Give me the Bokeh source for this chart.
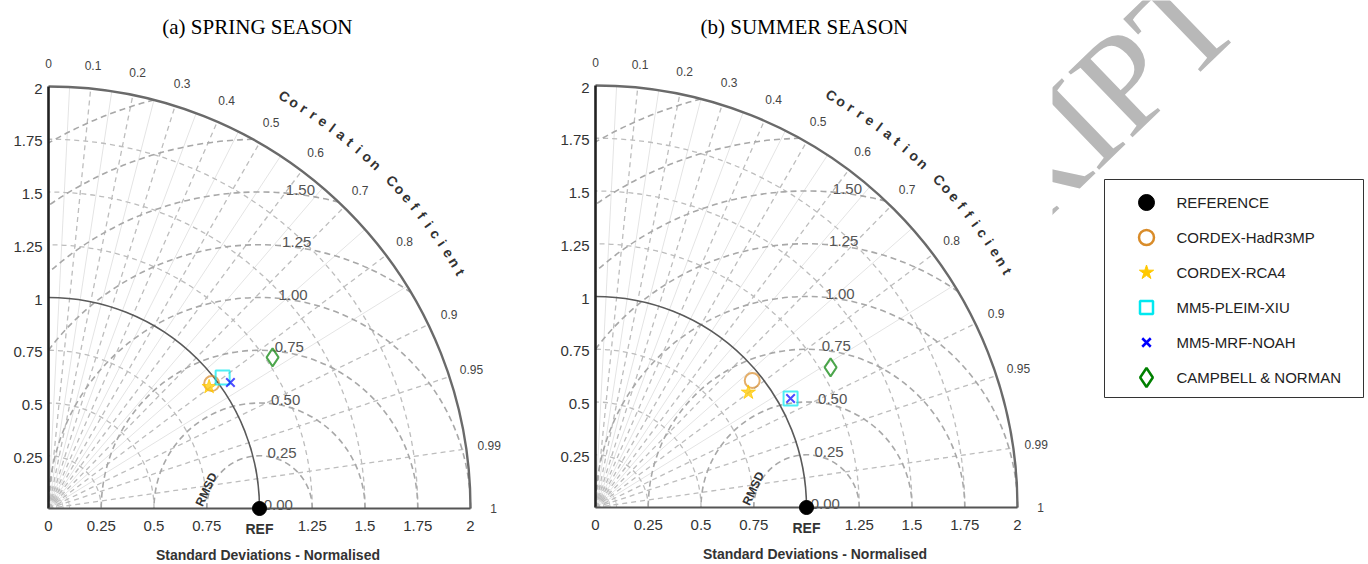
import numpy as np
from bokeh.plotting import figure
from bokeh.layouts import row
from bokeh.models import Range1d
from bokeh.core.properties import value
from bokeh.embed import file_html
from bokeh.resources import INLINE

# ---------------- data ----------------
TITLES = ["(a) SPRING SEASON", "(b) SUMMER SEASON"]
MODELS = ["CORDEX-HadR3MP", "CORDEX-RCA4", "MM5-PLEIM-XIU", "MM5-MRF-NOAH", "CAMPBELL & NORMAN"]
SPRING_STD = [0.974, 0.955, 1.033, 1.049, 1.281]
SPRING_CORR = [0.794, 0.797, 0.799, 0.822, 0.829]
SUMMER_STD = [0.956, 0.907, 1.059, 1.059, 1.297]
SUMMER_CORR = [0.777, 0.799, 0.873, 0.873, 0.859]
REF_NAME = "REFERENCE"
REF_STD = 1.0
REF_CORR = 1.0
MARKERS = ["circle", "star", "square", "x", "diamond"]
COLORS = ["#D98C2A", "#FFC800", "#00E8F0", "#0000FF", "#008000"]

STD_TICKS = [0.25, 0.5, 0.75, 1, 1.25, 1.5, 1.75, 2]
STD_TICK_LABELS = ["0.25", "0.5", "0.75", "1", "1.25", "1.5", "1.75", "2"]
X_TICKS = [0, 0.25, 0.5, 0.75, 1.25, 1.5, 1.75, 2]
X_TICK_LABELS = ["0", "0.25", "0.5", "0.75", "1.25", "1.5", "1.75", "2"]
CORR_TICKS = [0, 0.1, 0.2, 0.3, 0.4, 0.5, 0.6, 0.7, 0.8, 0.9, 0.95, 0.99, 1]
CORR_TICK_LABELS = ["0", "0.1", "0.2", "0.3", "0.4", "0.5", "0.6", "0.7", "0.8", "0.9", "0.95", "0.99", "1"]
CORR_LINES = [0.1, 0.2, 0.3, 0.4, 0.5, 0.6, 0.7, 0.8, 0.9, 0.95, 0.99]
CORR_MINOR = [0.05, 0.15, 0.25, 0.35, 0.45, 0.55, 0.65, 0.75, 0.85]
STD_ARCS = [0.25, 0.5, 0.75, 1.25, 1.5, 1.75]
RMS_LEVELS = [0.25, 0.5, 0.75, 1.0, 1.25, 1.5, 1.75, 2.0]
RMS_LABEL_VALUES = [0.0, 0.25, 0.5, 0.75, 1.0, 1.25, 1.5]
RMS_LABELS = ["0.00", "0.25", "0.50", "0.75", "1.00", "1.25", "1.50"]
CORR_TITLE = "Correlation Coefficient"
X_TITLE = "Standard Deviations - Normalised"
REF_LABEL = "REF"
RMS_TITLE = "RMSD"
WATERMARK = "RIPT"

SANS = value("Liberation Sans")
SERIF = value("Liberation Serif")
SCALE = 211.0
H = 564
MAXR = 2.0
PLOT_SIZES = {"circle": 15, "star": 15, "square": 14, "x": 12, "diamond": 18}
LEGEND_SIZES = {"circle": 15, "star": 15, "square": 13, "x": 12, "diamond": 19}


def panel(title, stds, corrs, width, ox, oy):
    p = figure(width=width, height=H,
               x_range=Range1d(-ox / SCALE, (width - ox) / SCALE),
               y_range=Range1d(-(H - oy) / SCALE, oy / SCALE),
               x_axis_location=None, y_axis_location=None,
               output_backend="svg", toolbar_location=None, min_border=0)
    p.grid.visible = False
    p.outline_line_color = None

    # faint minor correlation lines
    th = np.arccos(np.array(CORR_MINOR))
    p.segment(x0=0, y0=0, x1=MAXR * np.cos(th), y1=MAXR * np.sin(th),
              line_color="#e4e4e4", line_width=1)
    # tiny arcs near origin
    p.arc(x=0, y=0, radius=[0.04, 0.07, 0.1], start_angle=0, end_angle=np.pi / 2,
          line_color="#c8c8c8", line_width=1)
    # std arcs (dashed)
    p.arc(x=0, y=0, radius=STD_ARCS, start_angle=0, end_angle=np.pi / 2,
          line_color="#bdbdbd", line_width=1.3, line_dash="5 4")
    # correlation radial lines (dashed)
    th = np.arccos(np.array(CORR_LINES))
    p.segment(x0=0, y0=0, x1=MAXR * np.cos(th), y1=MAXR * np.sin(th),
              line_color="#bdbdbd", line_width=1.3, line_dash="5 4")
    # RMSD circles centred on reference, clipped to quadrant
    starts, ends = [], []
    for R in RMS_LEVELS:
        c = (3 - R ** 2) / (2 * R)
        starts.append(np.arccos(min(1.0, max(-1.0, c))))
        ends.append(np.arccos(max(-1.0, -1.0 / R)))
    p.arc(x=REF_STD, y=0, radius=RMS_LEVELS, start_angle=starts, end_angle=ends,
          line_color="#a8a8a8", line_width=1.6, line_dash="6 4")
    # reference std arc and outer arc
    p.arc(x=0, y=0, radius=REF_STD, start_angle=0, end_angle=np.pi / 2,
          line_color="#5a5a5a", line_width=1.6)
    p.arc(x=0, y=0, radius=MAXR, start_angle=0, end_angle=np.pi / 2,
          line_color="#6a6a6a", line_width=2.4)
    # axes lines
    p.segment(x0=[0], y0=[0], x1=[0], y1=[MAXR], line_color="#222222", line_width=2.6)
    p.segment(x0=[0], y0=[0], x1=[MAXR], y1=[0], line_color="#555555", line_width=2.2)

    # tick labels
    p.text(x=-0.028, y=np.array(STD_TICKS) - 0.01, text=STD_TICK_LABELS, text_font=SANS,
           text_font_size="15px", text_align="right", text_baseline="middle", text_color="#333333")
    p.text(x=X_TICKS, y=-0.085, text=X_TICK_LABELS, text_font=SANS,
           text_font_size="15px", text_align="center", text_baseline="middle", text_color="#333333")
    p.text(x=[REF_STD], y=[-0.097], text=[REF_LABEL], text_font=SANS, text_font_style="bold",
           text_font_size="14px", text_align="center", text_baseline="middle", text_color="#333333")
    p.text(x=[1.04], y=[-0.222], text=[X_TITLE], text_font=SANS, text_font_style="bold",
           text_font_size="14px", text_align="center", text_baseline="alphabetic", text_color="#333333")

    # correlation labels
    th = np.arccos(np.array(CORR_TICKS))
    p.text(x=2.11 * np.cos(th), y=2.11 * np.sin(th), text=CORR_TICK_LABELS, text_font=SANS,
           text_font_size="12px", text_align="center", text_baseline="middle", text_color="#444444")
    # curved title
    chars, cx, cy, ca = [], [], [], []
    for i, ch in enumerate(CORR_TITLE):
        if ch == " ":
            continue
        a = np.radians(60.2 - 1.38 * i)
        chars.append(ch)
        cx.append(2.25 * np.cos(a))
        cy.append(2.25 * np.sin(a))
        ca.append(a - np.pi / 2)
    p.text(x=cx, y=cy, text=chars, angle=ca, text_font=SANS, text_font_style="bold",
           text_font_size="14px", text_align="center", text_baseline="middle", text_color="#333333")

    # RMSD labels
    rv = np.array(RMS_LABEL_VALUES)
    a = np.radians(86.0)
    p.text(x=REF_STD + rv * np.cos(a) + 0.02, y=rv * np.sin(a) + 0.015, text=RMS_LABELS,
           text_font=SANS, text_font_size="15px", text_align="left", text_baseline="middle",
           text_color="#555555")
    p.text(x=[0.748], y=[0.09], text=[RMS_TITLE], angle=np.radians(65), text_font=SANS,
           text_font_style="bold", text_font_size="12px", text_align="center",
           text_baseline="middle", text_color="#333333")

    # title (baseline at 26 px from the page top)
    p.text(x=[0.99], y=[(oy - 26) / SCALE], text=[title],
           text_font=SERIF, text_font_size="21px", text_align="center",
           text_baseline="alphabetic", text_color="#000000")

    # model points
    s = np.array(stds)
    c = np.array(corrs)
    xs = s * c
    ys = s * np.sin(np.arccos(c))
    for k in range(len(MODELS)):
        m = MARKERS[k]
        if m == "star":
            p.scatter([xs[k]], [ys[k]], marker="star", size=PLOT_SIZES[m], fill_color=COLORS[k],
                      fill_alpha=0.75, line_color=COLORS[k], line_alpha=0.75)
        else:
            p.scatter([xs[k]], [ys[k]], marker=m, size=PLOT_SIZES[m],
                      fill_color=None, line_color=COLORS[k], line_width=2, line_alpha=0.7)
    p.scatter([REF_STD * REF_CORR], [0], marker="circle", size=14, fill_color="black",
              line_color="black")
    return p


pa = panel(TITLES[0], SPRING_STD, SPRING_CORR, 548, 48, 508)
pb = panel(TITLES[1], SUMMER_STD, SUMMER_CORR, 504, 47, 507)

# ---------------- legend figure ----------------
LW = 316
pl = figure(width=LW, height=H, x_range=Range1d(0, LW), y_range=Range1d(0, H),
            x_axis_location=None, y_axis_location=None,
            output_backend="svg", toolbar_location=None, min_border=0)
pl.grid.visible = False
pl.outline_line_color = None

pl.text(x=[52], y=[466], text=[WATERMARK], angle=np.radians(44), text_font=SERIF,
        text_font_size="140px", text_align="center", text_baseline="middle",
        text_color="#b8b8b8")

pl.quad(left=[52], right=[311], bottom=[167], top=[385], fill_color="white",
        line_color="#333333", line_width=1)
names = [REF_NAME] + MODELS
rows_y = [362 - 35 * i for i in range(len(names))]
pl.scatter([94], [rows_y[0]], marker="circle", size=16, fill_color="black", line_color="black")
for k in range(len(MODELS)):
    m = MARKERS[k]
    if m == "star":
        pl.scatter([94], [rows_y[k + 1]], marker="star", size=LEGEND_SIZES[m], fill_color=COLORS[k],
                   line_color=COLORS[k])
    else:
        pl.scatter([94], [rows_y[k + 1]], marker=m, size=LEGEND_SIZES[m], fill_color=None,
                   line_color=COLORS[k], line_width=2.5)
pl.text(x=124, y=rows_y, text=names, text_font=SANS, text_font_size="15px",
        text_align="left", text_baseline="middle", text_color="#222222")

layout = row(pa, pb, pl)
open("out.html", "w").write(file_html(layout, INLINE))
